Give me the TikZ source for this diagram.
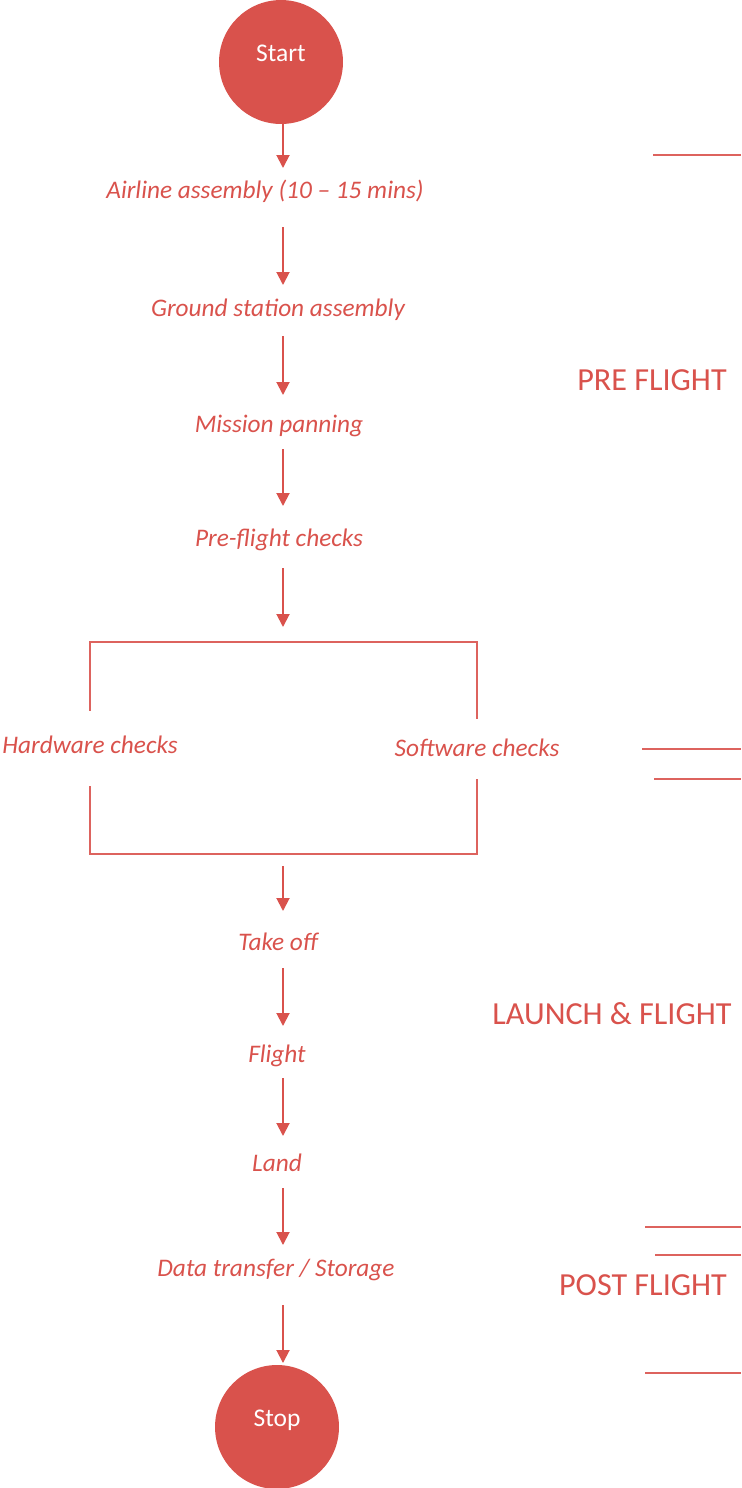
\documentclass[tikz,border=0pt]{standalone}
\usepackage{fontspec}
\setmainfont{Carlito}
\usetikzlibrary{arrows.meta}
\definecolor{flowred}{RGB}{217,82,76}

\begin{document}
\begin{tikzpicture}[x=.02cm,y=-.02cm,>={Triangle[length=.26cm,width=.26cm]},
  term/.style={circle,fill=flowred,minimum size=2.48cm,inner sep=0,text=white,
    font=\fontsize{14.5}{17}\selectfont,text height=.74em,text depth=.82em},
  stage/.style={text=flowred,inner sep=0,text height=.97em,text depth=.03em,
    font=\fontsize{14.4}{17}\selectfont\itshape},
  phase/.style={text=flowred,font=\fontsize{18.3}{22}\selectfont},
  flow/.style={draw=flowred,line width=1.1pt,->},
  bracket/.style={draw=flowred!90,line width=.8pt},
  sepline/.style={draw=flowred!90,line width=.6pt}]
  \useasboundingbox (0,0) rectangle (741,1488);

  % main column
  \node[term] (start) at (281,62) {Start};
  \node[stage] (air) at (265,190) {Airline assembly (10 -- 15 mins)};
  \node[stage] (ground) at (278,308) {Ground station assembly};
  \node[stage] (mission) at (279,424) {Mission panning};
  \node[stage] (pre) at (279,538) {Pre-flight checks};
  \coordinate (split) at (284,642);
  \node[stage] (hw) at (90,745) {Hardware checks};
  \node[stage] (sw) at (477,748) {Software checks};
  \coordinate (join) at (284,854);
  \node[stage] (take) at (278,942) {Take off};
  \node[stage] (flight) at (277,1054) {Flight};
  \node[stage] (land) at (277,1163) {Land};
  \node[stage] (data) at (276,1268) {Data transfer / Storage};
  \node[term] (stop) at (277,1427) {Stop};
  \coordinate (spine) at (283,0);

  \foreach \a/\b/\s/\e in {start/air/62/22,air/ground/37/23,ground/mission/28/29,
      mission/pre/25/32,pre/split/30/15,join/take/12/31,take/flight/26/28,
      flight/land/24/27,land/data/25/23,data/stop/37/64}
    \draw[flow,shorten <=\s*.02cm,shorten >=\e*.02cm] (\a -| spine) -- (\b -| spine);

  % checks bracket
  \draw[bracket,shorten <=.5cm,shorten >=.4cm] (hw) |- (split) -| (sw);
  \draw[bracket,shorten <=.64cm,shorten >=.44cm] (hw) |- (join) -| (sw);

  % phases
  \node[phase] (preflight) at (652,380) {PRE FLIGHT};
  \node[phase] (launch) at (612,1014) {LAUNCH \& FLIGHT};
  \node[phase] (postflight) at (643,1285) {POST FLIGHT};
  \draw[sepline] (653,155) -- (741,155);
  \draw[sepline] (642,749) -- (741,749);
  \draw[sepline] (654,779) -- (741,779);
  \draw[sepline] (645,1227) -- (741,1227);
  \draw[sepline] (655,1255) -- (741,1255);
  \draw[sepline] (645,1373) -- (741,1373);
\end{tikzpicture}
\end{document}
